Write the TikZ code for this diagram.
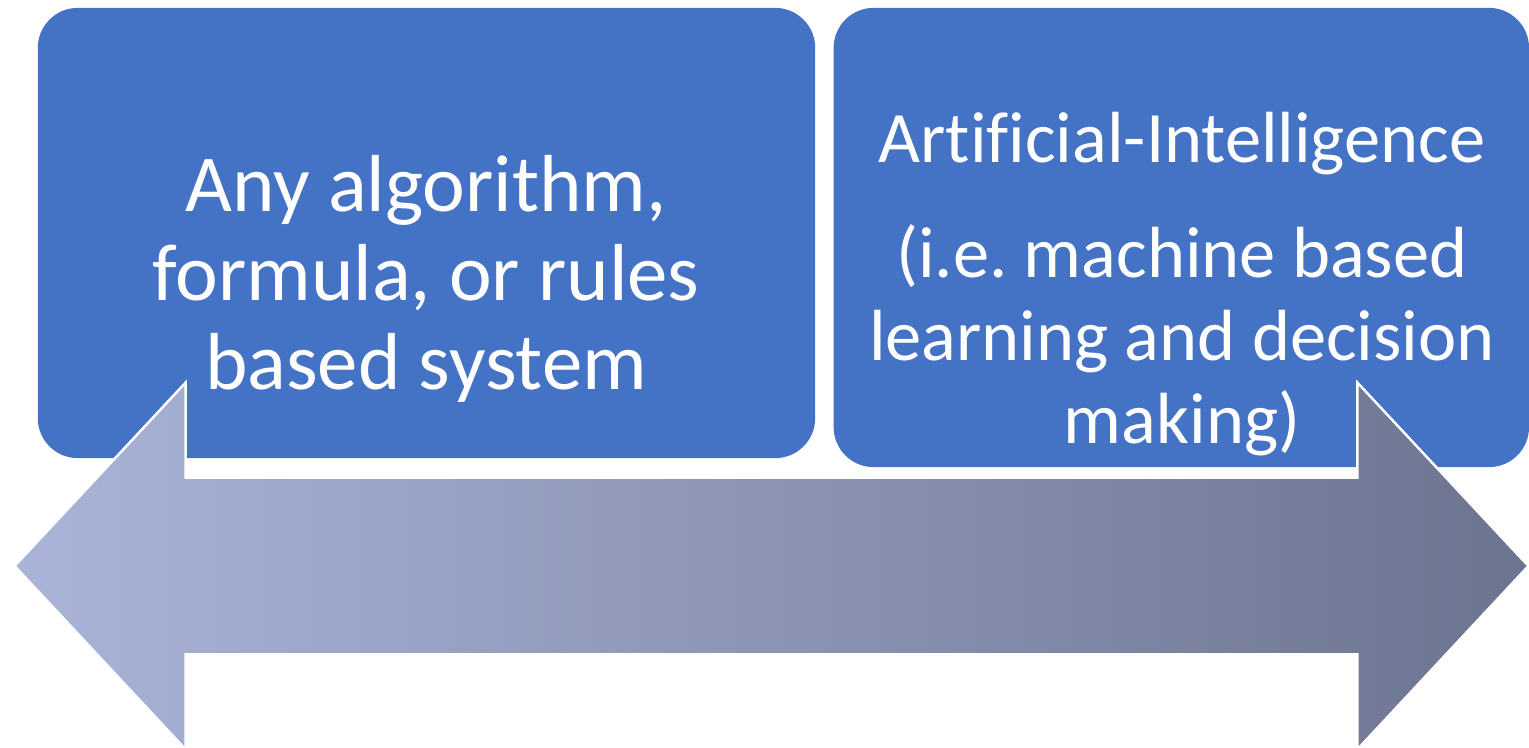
\documentclass[tikz,border=0pt]{standalone}
\usepackage{fontspec}
\setmainfont{Carlito}[Ligatures=NoCommon]
\usepackage{tikz}
\usetikzlibrary{positioning,shapes.arrows}
\definecolor{boxblue}{RGB}{68,114,196}
\definecolor{arrowlight}{RGB}{170,180,216}
\definecolor{arrowdark}{RGB}{108,116,144}

\begin{document}
\frenchspacing
\begin{tikzpicture}[x=0.01cm,y=-0.01cm,
        bluebox/.style={rectangle, fill=boxblue, rounded corners=0.4cm, inner sep=0pt},
        boxtext/.style={text=white, align=center}]
            \useasboundingbox (0,0) rectangle (1529,748);
            \node[bluebox, minimum width=7.77cm, minimum height=4.5cm](rules) at (426.5,233){};
            \node[bluebox, minimum width=6.95cm, minimum height=4.59cm, right=0.17cm of rules.north east, anchor=north west](ai){};
            \node[boxtext, font=\fontsize{23}{25.3}\selectfont](rules-text) at (426,279){Any algorithm,\\formula, or rules\\based system};
            \node[boxtext, font=\fontsize{20.6}{23.6}\selectfont](ai-text) at (1182,284){Artificial-Intelligence\\[0.32cm](i.e. machine based\\learning and decision\\making)};
            \node[double arrow, double arrow tip angle=94, double arrow head extend=0.95cm, inner xsep=0pt, inner ysep=0.87cm, minimum width=3.64cm, minimum height=15.13cm, left color=arrowlight, right color=arrowdark, draw=white, line width=0.7pt](scale) at (771.5,566){};
        \end{tikzpicture}
\end{document}
